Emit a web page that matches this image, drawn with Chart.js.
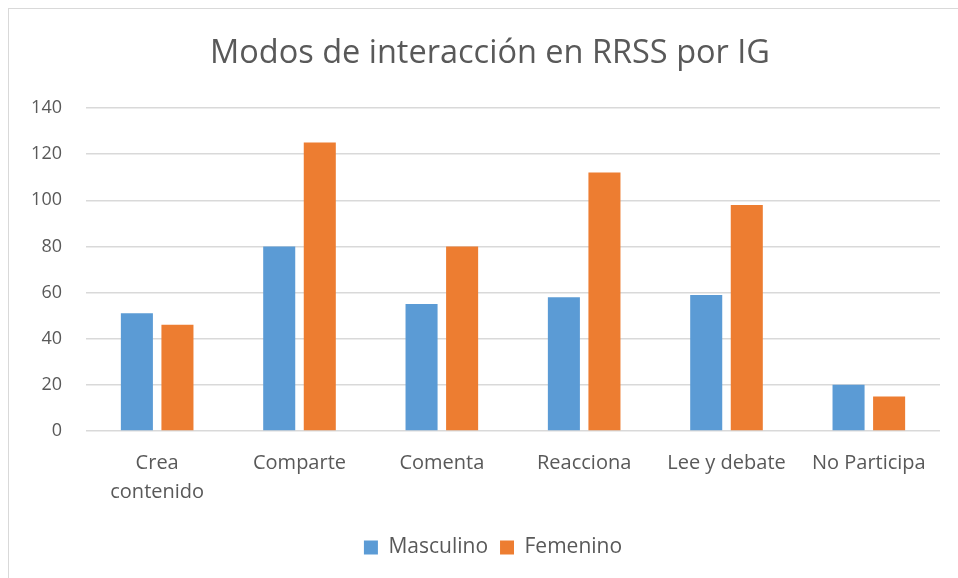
<!DOCTYPE html>
<html lang="es">
<head>
<meta charset="utf-8">
<title>Modos de interacción en RRSS por IG</title>
<script src="https://cdn.jsdelivr.net/npm/chart.js@4/dist/chart.umd.min.js"></script>
<style>
  html, body {
    margin: 0;
    padding: 0;
    background: #ffffff;
    overflow: hidden;
  }
  #frame {
    position: absolute;
    left: 8px;
    top: 8px;
    width: 960px;
    height: 580px;
    border: 1px solid #d9d9d9;
    box-sizing: border-box;
  }
  #wrap {
    position: absolute;
    left: 0;
    top: 0;
    width: 958px;
    height: 578px;
  }
</style>
</head>
<body>
<div id="frame"></div>
<div id="wrap"><canvas id="igChart"></canvas></div>
<script>
// Datos del gráfico
const categorias = [["Crea", "contenido"], "Comparte", "Comenta", "Reacciona", "Lee y debate", "No Participa"];
const masculino = [51, 80, 55, 58, 59, 20];
const femenino = [46, 125, 80, 112, 98, 15];
const ticksY = [0, 20, 40, 60, 80, 100, 120, 140];

const FONT = "'Open Sans', 'Liberation Sans', sans-serif";
const TEXT_COLOR = "#595959";
const GRID_COLOR = "#d9d9d9";

// Centra título y leyenda sobre todo el lienzo, no sobre el hueco entre paddings
const centrarBloques = {
  id: "centrarBloques",
  afterLayout(chart) {
    if (chart.titleBlock) {
      chart.titleBlock.left += 17;
      chart.titleBlock.right += 17;
    }
    if (chart.legend) {
      chart.legend.left += 20;
      chart.legend.right += 20;
    }
  }
};

const ctx = document.getElementById("igChart").getContext("2d");

new Chart(ctx, {
  type: "bar",
  data: {
    labels: categorias,
    datasets: [
      {
        label: "Masculino",
        data: masculino,
        backgroundColor: "#5b9bd5",
        borderWidth: 0,
        categoryPercentage: 0.57,
        barPercentage: 0.79
      },
      {
        label: "Femenino",
        data: femenino,
        backgroundColor: "#ed7d31",
        borderWidth: 0,
        categoryPercentage: 0.57,
        barPercentage: 0.79
      }
    ]
  },
  options: {
    responsive: true,
    maintainAspectRatio: false,
    animation: false,
    layout: {
      padding: { left: 6, right: 18, top: 34, bottom: 10 }
    },
    plugins: {
      title: {
        display: true,
        text: "Modos de interacción en RRSS por IG",
        color: TEXT_COLOR,
        font: { family: FONT, size: 32.5, weight: "normal" },
        padding: { top: 0, bottom: 35 }
      },
      legend: {
        position: "bottom",
        labels: {
          color: TEXT_COLOR,
          font: { family: FONT, size: 21 },
          boxWidth: 14,
          boxHeight: 14,
          padding: 12
        }
      },
      tooltip: { enabled: false }
    },
    scales: {
      x: {
        grid: { display: false, drawTicks: false },
        border: { display: false },
        ticks: {
          color: TEXT_COLOR,
          font: { family: FONT, size: 20, lineHeight: 1.45 },
          padding: 18,
          maxRotation: 0,
          autoSkip: false
        }
      },
      y: {
        min: 0,
        max: 140,
        afterBuildTicks: (axis) => {
          axis.ticks = ticksY.map((v) => ({ value: v }));
        },
        afterFit: (axis) => {
          axis.width = 80;
        },
        grid: {
          color: GRID_COLOR,
          lineWidth: 1.5,
          drawTicks: false
        },
        border: { display: false },
        ticks: {
          color: TEXT_COLOR,
          font: { family: FONT, size: 18 },
          padding: 24
        }
      }
    }
  },
  plugins: [centrarBloques]
});
</script>
</body>
</html>
